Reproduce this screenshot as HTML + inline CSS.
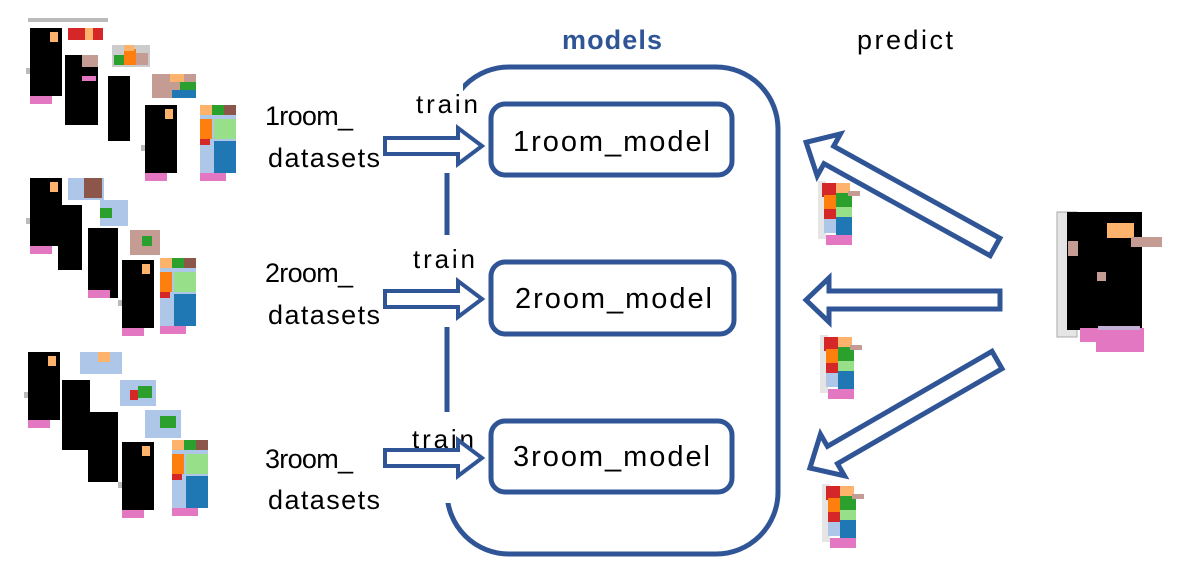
<!DOCTYPE html>
<html><head><style>
html,body{margin:0;padding:0;background:#fff;}
svg{display:block;}
text{font-family:"Liberation Sans",sans-serif;}
</style></head><body>
<svg width="1200" height="575" viewBox="0 0 1200 575" xmlns="http://www.w3.org/2000/svg">
<defs>
<g id="bp">
 <rect x="0" y="0" width="32" height="68" fill="#000"/>
 <rect x="20" y="4" width="8" height="10" fill="#fdb36b"/>
 <rect x="-4" y="40" width="4" height="6" fill="#bbb"/>
 <rect x="0" y="68" width="22" height="8" fill="#e377c2"/>
</g>
<g id="cp">
 <rect x="0" y="0" width="36" height="68" fill="#aec7e8"/>
 <rect x="0" y="0" width="12" height="10" fill="#fdb36b"/>
 <rect x="12" y="0" width="12" height="10" fill="#2ca02c"/>
 <rect x="24" y="0" width="12" height="10" fill="#8c564b"/>
 <rect x="0" y="14" width="12" height="20" fill="#ff7f0e"/>
 <rect x="14" y="14" width="22" height="20" fill="#98df8a"/>
 <rect x="14" y="36" width="22" height="32" fill="#1f77b4"/>
 <rect x="0" y="34" width="10" height="6" fill="#d62728"/>
 <rect x="0" y="68" width="26" height="8" fill="#e377c2"/>
</g>
<g id="sp">
 <rect x="0" y="0" width="38" height="22" fill="#ccc"/>
 <rect x="2" y="10" width="10" height="10" fill="#2ca02c"/>
 <rect x="12" y="4" width="12" height="16" fill="#ff7f0e"/>
 <rect x="24" y="8" width="12" height="12" fill="#c49c94"/>
 <rect x="12" y="0" width="10" height="6" fill="#fdb36b"/>
</g>
<g id="pp">
 <rect x="0" y="0" width="8" height="58" fill="#e5e5e5"/>
 <rect x="4" y="2" width="14" height="14" fill="#d62728"/>
 <rect x="18" y="2" width="14" height="10" fill="#fdb36b"/>
 <rect x="6" y="14" width="12" height="14" fill="#ff7f0e"/>
 <rect x="18" y="12" width="16" height="14" fill="#2ca02c"/>
 <rect x="18" y="26" width="16" height="10" fill="#98df8a"/>
 <rect x="6" y="28" width="12" height="10" fill="#d62728"/>
 <rect x="6" y="38" width="12" height="14" fill="#aec7e8"/>
 <rect x="18" y="36" width="16" height="18" fill="#1f77b4"/>
 <rect x="30" y="10" width="12" height="5" fill="#c49c94"/>
 <rect x="8" y="54" width="26" height="10" fill="#e377c2"/>
</g>
</defs>

<!-- group 1 -->
<rect x="28" y="18" width="80" height="4" fill="#bbb"/>
<use href="#bp" x="30" y="28"/>
<rect x="68" y="28" width="35" height="12" fill="#d62728"/>
<rect x="85" y="28" width="8" height="12" fill="#fdb36b"/>
<rect x="65" y="55" width="33" height="70" fill="#000"/><rect x="82" y="55" width="16" height="12" fill="#c49c94"/><rect x="82" y="76" width="14" height="5" fill="#e377c2"/>
<use href="#sp" x="112" y="45"/>
<rect x="108" y="76" width="22" height="65" fill="#000"/>
<rect x="152" y="74" width="44" height="24" fill="#c49c94"/><rect x="170" y="74" width="14" height="8" fill="#fdb36b"/><rect x="180" y="82" width="16" height="10" fill="#2ca02c"/><rect x="172" y="90" width="24" height="8" fill="#1f77b4"/>
<use href="#bp" x="145" y="105"/>
<use href="#cp" x="200" y="105"/>

<!-- group 2 -->
<use href="#bp" x="30" y="178"/>
<rect x="68" y="178" width="36" height="22" fill="#aec7e8"/><rect x="84" y="178" width="18" height="20" fill="#8c564b"/>
<rect x="58" y="205" width="24" height="65" fill="#000"/>
<rect x="100" y="200" width="28" height="26" fill="#aec7e8"/><rect x="100" y="208" width="12" height="10" fill="#2ca02c"/>
<rect x="88" y="228" width="30" height="70" fill="#000"/><rect x="88" y="290" width="22" height="8" fill="#e377c2"/>
<rect x="130" y="230" width="30" height="25" fill="#c49c94"/><rect x="142" y="236" width="10" height="10" fill="#2ca02c"/>
<use href="#bp" x="122" y="260"/>
<use href="#cp" x="160" y="258"/>

<!-- group 3 -->
<use href="#bp" x="28" y="352"/>
<rect x="80" y="352" width="42" height="22" fill="#aec7e8"/><rect x="98" y="352" width="12" height="10" fill="#fdb36b"/>
<rect x="62" y="380" width="28" height="70" fill="#000"/>
<rect x="120" y="380" width="36" height="26" fill="#aec7e8"/><rect x="138" y="386" width="14" height="12" fill="#2ca02c"/><rect x="130" y="390" width="8" height="10" fill="#d62728"/>
<rect x="88" y="412" width="30" height="70" fill="#000"/>
<rect x="145" y="410" width="36" height="28" fill="#aec7e8"/><rect x="160" y="416" width="16" height="12" fill="#2ca02c"/>
<use href="#bp" x="122" y="442"/>
<use href="#cp" x="172" y="440"/>

<!-- models box -->
<rect x="447" y="67" width="331" height="487" rx="62" fill="none" stroke="#2F5597" stroke-width="5"/>
<rect x="400" y="60" width="63" height="113" fill="#fff"/>
<rect x="400" y="235" width="80" height="92" fill="#fff"/>
<rect x="400" y="412" width="80" height="91" fill="#fff"/>
<text x="612" y="49" font-size="27" font-weight="bold" fill="#2F5597" text-anchor="middle" textLength="100">models</text>
<text x="857" y="49" font-size="27" fill="#000" textLength="96">predict</text>

<g fill="#fff" stroke="#2F5597" stroke-width="5">
<rect x="491" y="104" width="241" height="71" rx="14"/>
<rect x="491" y="262" width="243" height="72" rx="14"/>
<rect x="491" y="421" width="241" height="71" rx="14"/>
</g>
<g font-size="29" fill="#000">
<text x="513" y="151" textLength="197">1room_model</text>
<text x="515" y="308" textLength="197">2room_model</text>
<text x="513" y="466" textLength="197">3room_model</text>
</g>
<g font-size="27" fill="#000">
<text x="265" y="125" textLength="88">1room_</text><text x="268" y="167" textLength="112">datasets</text>
<text x="265" y="282" textLength="88">2room_</text><text x="268" y="324" textLength="112">datasets</text>
<text x="265" y="468" textLength="88">3room_</text><text x="268" y="509" textLength="112">datasets</text>
<text x="416" y="113" font-size="26" textLength="62">train</text>
<text x="413" y="268" font-size="26" textLength="62">train</text>
<text x="412" y="448" font-size="26" textLength="62">train</text>
</g>

<!-- train arrows -->
<g fill="#fff" stroke="#2F5597" stroke-width="4" stroke-linejoin="miter">
<polygon points="385,138 458,138 458,128 482,146 458,164 458,154 385,154"/>
<polygon points="385,291 458,291 458,281 482,299 458,317 458,307 385,307"/>
<polygon points="385,450 458,450 458,440 482,458 458,476 458,466 385,466"/>
</g>

<!-- predict arrows -->
<g fill="#fff" stroke="#2F5597" stroke-width="5" stroke-linejoin="miter">
<polygon points="1000,291 829,291 829,278 806,300 829,322 829,309 1000,309"/>
<g transform="translate(995,247) rotate(209)">
<polygon points="0,-10 190,-10 190,-24 216,0 190,24 190,10 0,10"/>
</g>
<g transform="translate(997,360) rotate(150)">
<polygon points="0,-10 190,-10 190,-24 216,0 190,24 190,10 0,10"/>
</g>
</g>

<!-- predicted small plans -->
<use href="#pp" x="818" y="181"/>
<use href="#pp" x="820" y="335"/>
<use href="#pp" x="822" y="484"/>

<!-- input plan -->
<rect x="1057" y="212" width="20" height="125" fill="#e5e5e5" stroke="#aaa" stroke-width="1"/>
<rect x="1067" y="212" width="75" height="118" fill="#000"/>
<rect x="1107" y="223" width="27" height="15" fill="#fdb36b"/>
<rect x="1131" y="237" width="31" height="10" fill="#c49c94"/>
<rect x="1068" y="241" width="10" height="15" fill="#c49c94"/>
<rect x="1097" y="272" width="9" height="9" fill="#c49c94"/>
<rect x="1080" y="328" width="64" height="14" fill="#e377c2"/>
<rect x="1096" y="340" width="48" height="12" fill="#e377c2"/>
<rect x="1098" y="326" width="42" height="4" fill="#c5b0d5"/>
</svg>
</body></html>
